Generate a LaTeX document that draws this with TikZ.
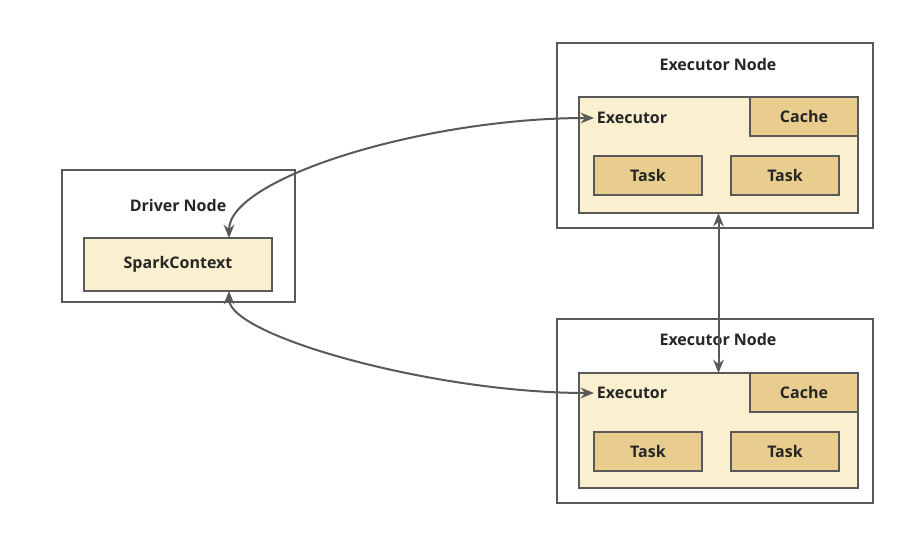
\documentclass[tikz,border=0pt]{standalone}
\usepackage{fontspec}
\setmainfont{Open Sans}
\usetikzlibrary{arrows.meta}
\definecolor{edge}{HTML}{595959}
\definecolor{lightfill}{HTML}{FAEFCF}
\definecolor{darkfill}{HTML}{E9CD8E}
\definecolor{txt}{HTML}{262626}
\begin{document}
\begin{tikzpicture}[x=0.75pt,y=-0.75pt,
  box/.style={draw=edge,line width=1.5pt,inner sep=0pt,outer sep=0pt,
    minimum width=#1},
  outerbox/.style={box=#1,fill=white},
  lightbox/.style={box=#1,fill=lightfill},
  darkbox/.style={box=#1,fill=darkfill},
  lbl/.style={font=\bfseries\fontsize{12pt}{14pt}\selectfont,text=txt,inner sep=2pt},
  conn/.style={draw=edge,line width=1.5pt,{Stealth[length=10pt,width=8pt]}-{Stealth[length=10pt,width=8pt]}}
]
\useasboundingbox (0,0) rectangle (920,539);
% Driver node
\node[outerbox=174.75pt,minimum height=99pt] (drv) at (178.5,236) {};
\node[lbl] (drvt) at (178,205) {Driver Node};
\node[lightbox=141pt,minimum height=39.75pt,lbl] (sc) at (178,264.5) {SparkContext};
% Executor node 1
\node[outerbox=237pt,minimum height=138.75pt] (en1) at (715,135.5) {};
\node[lbl] (en1t) at (718,64) {Executor Node};
\node[lightbox=209.25pt,minimum height=87pt] (ex1) at (718.5,155) {};
\node[lbl,anchor=west] (ex1l) at (594,118) {Executor};
\node[darkbox=81pt,minimum height=29.25pt,lbl] (c1) at (804,116.5) {Cache};
\node[darkbox=81pt,minimum height=29.25pt,lbl] (t1a) at (648,175.5) {Task};
\node[darkbox=81pt,minimum height=29.25pt,lbl] (t1b) at (785,175.5) {Task};
% Executor node 2
\node[outerbox=237pt,minimum height=138pt] (en2) at (715,411) {};
\node[lbl] (en2t) at (718,339) {Executor Node};
\node[lightbox=209.25pt,minimum height=86.25pt] (ex2) at (718.5,430.5) {};
\node[lbl,anchor=west] (ex2l) at (594,393) {Executor};
\node[darkbox=81pt,minimum height=29.25pt,lbl] (c2) at (804,392.5) {Cache};
\node[darkbox=81pt,minimum height=29.25pt,lbl] (t2a) at (648,451) {Task};
\node[darkbox=81pt,minimum height=29.25pt,lbl] (t2b) at (785,451) {Task};
% connectors
\draw[conn] ([xshift=38.25pt]sc.north) .. controls +(0,-60) and +(-170,0) .. (ex1l.west);
\draw[conn] ([xshift=38.25pt]sc.south) .. controls +(0,45) and +(-160,0) .. (ex2l.west);
\draw[conn] (ex1.south) -- (ex2.north);
\end{tikzpicture}
\end{document}
